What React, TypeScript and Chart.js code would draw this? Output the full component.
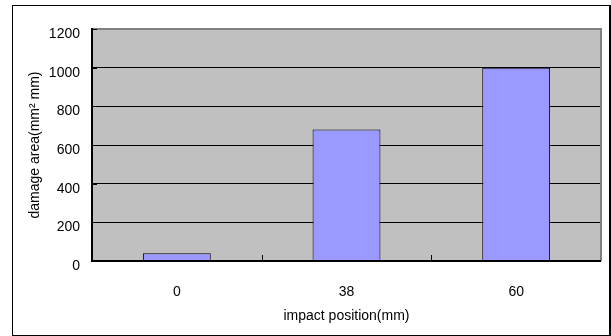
import React, { useEffect, useRef } from "react";
import { Chart, registerables } from "chart.js";

Chart.register(...registerables);

// Impact positions (mm) and the damage area measured at each one
const impactPositions = ["0", "38", "60"];
const damageArea = [40, 680, 1000];

// Value axis range
const yMin = 0;
const yMax = 1200;
const yStep = 200;

const FONT = "'Liberation Sans', Arial, sans-serif";

// Grey plot background, Excel-style frame, inner tick marks and outer border
const framePlugin = {
  id: "excelFrame",
  beforeDraw(chart: any) {
    const { ctx, chartArea: a } = chart;
    ctx.save();
    ctx.fillStyle = "#ffffff";
    ctx.fillRect(0, 0, chart.width, chart.height);
    ctx.fillStyle = "#c0c0c0";
    ctx.fillRect(a.left, a.top, a.right - a.left, a.bottom - a.top);
    ctx.restore();
  },
  afterDraw(chart: any) {
    const { ctx, chartArea: a, scales } = chart;
    ctx.save();
    // top and right edges of the plot in grey
    ctx.strokeStyle = "#808080";
    ctx.lineWidth = 2;
    ctx.beginPath();
    ctx.moveTo(a.left, a.top);
    ctx.lineTo(a.right, a.top);
    ctx.lineTo(a.right, a.bottom);
    ctx.stroke();
    // value and category axis lines in black
    ctx.strokeStyle = "#000000";
    ctx.beginPath();
    ctx.moveTo(a.left, a.top - 1);
    ctx.lineTo(a.left, a.bottom);
    ctx.lineTo(a.right, a.bottom);
    ctx.stroke();
    // inner tick marks
    ctx.lineWidth = 1;
    ctx.beginPath();
    const y = scales.y;
    for (let v = yMin; v <= yMax; v += yStep) {
      const py = Math.round(y.getPixelForValue(v)) + 0.5;
      ctx.moveTo(a.left, py);
      ctx.lineTo(a.left + 5, py);
    }
    const x = scales.x;
    for (let i = 1; i < impactPositions.length; i++) {
      const px =
        Math.round((x.getPixelForValue(i - 1) + x.getPixelForValue(i)) / 2) + 0.5;
      ctx.moveTo(px, a.bottom);
      ctx.lineTo(px, a.bottom - 6);
    }
    ctx.stroke();
    // outer chart border
    ctx.strokeStyle = "#000000";
    ctx.lineWidth = 1;
    ctx.strokeRect(12.5, 5.5, 597, 330);
    ctx.fillStyle = "#000000";
    ctx.fillRect(609, 5, 2, 331);
    ctx.restore();
  },
};

export default function App() {
  const canvasRef = useRef<HTMLCanvasElement | null>(null);

  useEffect(() => {
    const canvas = canvasRef.current;
    if (!canvas) return;
    const chart = new Chart(canvas, {
      type: "bar",
      data: {
        labels: impactPositions,
        datasets: [
          {
            data: damageArea,
            backgroundColor: "#9999ff",
            borderColor: "#000000",
            borderWidth: 1,
            barPercentage: 0.4,
            categoryPercentage: 1,
          },
        ],
      },
      options: {
        responsive: false,
        animation: false,
        devicePixelRatio: 1,
        layout: { padding: { left: 0, top: 29, right: 10, bottom: 0 } },
        plugins: {
          legend: { display: false },
          tooltip: { enabled: false },
        },
        scales: {
          x: {
            type: "category",
            offset: true,
            grid: { display: false },
            border: { display: false },
            ticks: {
              color: "#000000",
              font: { family: FONT, size: 14 },
              padding: 15,
            },
            title: {
              display: true,
              text: "impact position(mm)",
              color: "#000000",
              font: { family: FONT, size: 14 },
              padding: { top: 0, bottom: 11 },
            },
            afterFit(scale: any) {
              scale.height = 75;
            },
          },
          y: {
            min: yMin,
            max: yMax,
            ticks: {
              stepSize: yStep,
              color: "#000000",
              font: { family: FONT, size: 14 },
              padding: 12,
              labelOffset: 5,
              callback: (v: any) => String(v),
            },
            grid: {
              color: "#000000",
              lineWidth: 1,
              drawTicks: false,
            },
            border: { display: false },
            title: {
              display: true,
              text: "damage area(mm² mm)",
              color: "#000000",
              font: { family: FONT, size: 14 },
              padding: { top: 27, bottom: 0 },
            },
            afterFit(scale: any) {
              scale.width = 92;
            },
          },
        },
      },
      plugins: [framePlugin],
    });
    return () => chart.destroy();
  }, []);

  return (
    <div style={{ position: "fixed", left: 0, top: 0, width: 611, height: 336 }}>
      <canvas ref={canvasRef} width={611} height={336} style={{ display: "block" }} />
    </div>
  );
}
